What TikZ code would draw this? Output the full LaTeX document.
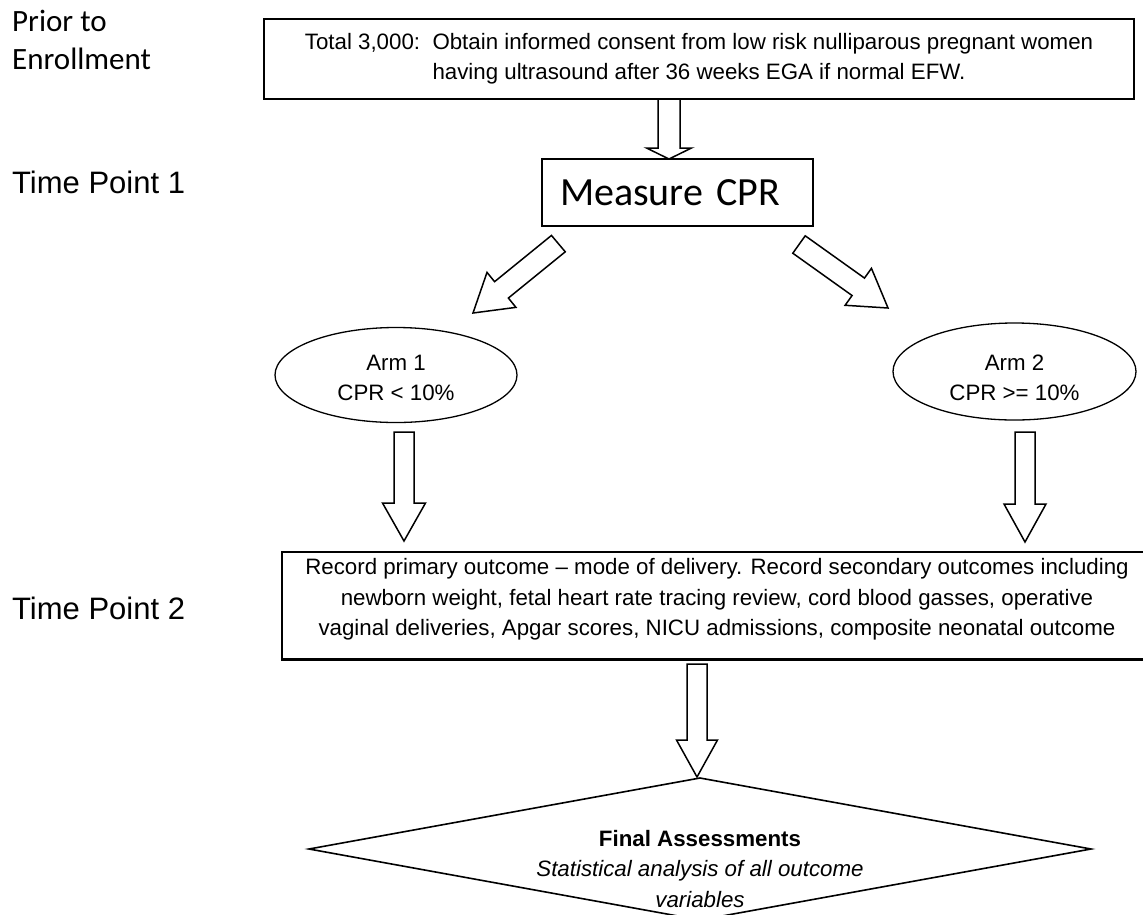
\documentclass[tikz,border=0pt]{standalone}
\usepackage{fontspec}
\setmainfont{Liberation Sans}
\newfontfamily\calfont{Carlito}
\usetikzlibrary{shapes.geometric,calc}
\tikzset{
  box/.style={draw=black, line width=2.2pt, fill=white, inner sep=0pt, outer sep=0pt},
  oval/.style={ellipse, draw=black, line width=1.3pt, fill=white, inner sep=0pt, outer sep=0pt},
  bodytext/.style={font=\fontsize{22.3pt}{30.3pt}\selectfont, align=center, inner sep=0pt},
  sidelabel/.style={font=\fontsize{31pt}{38pt}\selectfont, align=left, inner sep=0pt},
  blockarrow/.style n args={3}{draw=black, line width=1.5pt, fill=white, line join=miter, to path={
    let \p1=(\tikztostart), \p2=(\tikztotarget),
        \n1={atan2(\y2-\y1,\x2-\x1)},
        \n2={veclen(\x2-\x1,\y2-\y1)-#3}
    in (\p1) ++({\n1+90}:#1) -- ++(\n1:{\n2*1pt}) -- ++({\n1+90}:{#2-#1}) -- (\p2)
       -- ++($({\n1+180}:#3)+({\n1-90}:#2)$) -- ++({\n1+90}:{#2-#1})
       -- ++({\n1+180}:{\n2*1pt}) -- cycle
  }},
}
\begin{document}
\begin{tikzpicture}[x=1pt,y=-1pt]
\useasboundingbox (0,0) rectangle (1143,914);
\clip (0,0) rectangle (1143,914);

% side labels
\node[sidelabel, font=\calfont\fontsize{31pt}{38pt}\selectfont, anchor=north west] (prior) at (12,10) {Prior to\\Enrollment};
\node[sidelabel, anchor=base west] (tp1) at (12,193) {Time Point 1};
\node[sidelabel, anchor=base west] (tp2) at (12,619) {Time Point 2};

% boxes
\node[box, bodytext, minimum width=870pt, minimum height=80pt] (top) at (699,59)
  {Total 3,000:\ \ Obtain informed consent from low risk nulliparous pregnant women\\having ultrasound after 36 weeks EGA if normal EFW.};

\node[box, line width=2pt, minimum height=67pt, text width=235pt, inner xsep=18pt, align=left,
      font=\calfont\fontsize{40pt}{48pt}\selectfont] (cpr) at (677.5,192.5) {Measure CPR};

\node[oval, minimum width=242pt, minimum height=95pt] (arm1) at (396,375) {};
\node[bodytext] (arm1t) at (396,378) {Arm 1\\CPR < 10\%};
\node[oval, minimum width=243pt, minimum height=97pt] (arm2) at (1014.5,371.5) {};
\node[bodytext] (arm2t) at (1014.5,378) {Arm 2\\CPR >= 10\%};

\node[box, minimum width=870pt, minimum height=107.5pt] (rec) at (717,605.75) {};
\node[bodytext] (rect) at (717,599.5) {Record primary outcome -- mode of delivery. Record secondary outcomes including\\newborn weight, fetal heart rate tracing review, cord blood gasses, operative\\vaginal deliveries, Apgar scores, NICU admissions, composite neonatal outcome};

\node[diamond, draw=black, line width=1.6pt, fill=white, inner sep=0pt, outer sep=0pt,
      minimum width=782pt, minimum height=142pt] (final) at (700,849) {};
\node[bodytext] (finalt) at (700,869) {\textbf{Final Assessments}\\\textit{Statistical analysis of all outcome}\\\textit{variables}};

% arrow end points
\coordinate (a0s) at ([xshift=-30pt]top.south);
\coordinate (a0e) at (a0s |- cpr.north);
\coordinate (d1s) at (558.5,243.5);
\coordinate (d1e) at (473,313);
\coordinate (d2s) at (799,244.5);
\coordinate (d2e) at (888,308);
\coordinate (a1s) at (404,432);
\coordinate (a1e) at (404,541);
\coordinate (a2s) at (1025,432);
\coordinate (a2e) at (1025,542);
\coordinate (a3s) at (697,664);
\coordinate (a3e) at (697,777);

% block arrows
\draw[blockarrow={11pt}{22.5pt}{11pt}] (a0s) to (a0e);
\draw[blockarrow={10.7pt}{22.7pt}{36.5pt}] (d1s) to (d1e);
\draw[blockarrow={10.7pt}{22.7pt}{36.5pt}] (d2s) to (d2e);
\draw[blockarrow={10pt}{21.5pt}{38pt}] (a1s) to (a1e);
\draw[blockarrow={10pt}{21pt}{38pt}] (a2s) to (a2e);
\draw[blockarrow={10pt}{20.5pt}{37pt}] (a3s) to (a3e);
\end{tikzpicture}
\end{document}
